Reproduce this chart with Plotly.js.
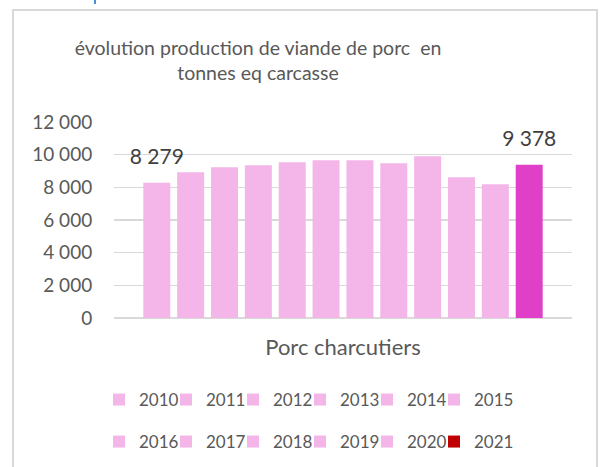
<!DOCTYPE html>
<html>
<head>
<meta charset="utf-8">
<script src="https://cdn.plot.ly/plotly-3.0.1.min.js"></script>
<style>
html,body{margin:0;padding:0;background:#fff;}
#wrap{position:relative;width:602px;height:467px;overflow:hidden;}
#chart{position:absolute;left:0;top:0;width:602px;height:467px;}
#frame{position:absolute;left:12px;top:9px;width:586px;height:470px;border:2px solid #D9D9D9;box-sizing:border-box;pointer-events:none;}
#cursor{position:absolute;left:94px;top:0;width:2px;height:4px;background:#4A90D9;}
</style>
</head>
<body>
<div id="wrap">
<div id="chart"></div>
<div id="frame"></div>
<div id="cursor"></div>
</div>
<script>
const category = ["Porc charcutiers"];
const years = ["2010","2011","2012","2013","2014","2015","2016","2017","2018","2019","2020","2021"];
const values = [8279, 8930, 9230, 9350, 9540, 9660, 9660, 9480, 9900, 8620, 8190, 9378];
const barColors = ["#F4B6E8","#F4B6E8","#F4B6E8","#F4B6E8","#F4B6E8","#F4B6E8","#F4B6E8","#F4B6E8","#F4B6E8","#F4B6E8","#F4B6E8","#E040C8"];
const legendColors = ["#F4B6E8","#F4B6E8","#F4B6E8","#F4B6E8","#F4B6E8","#F4B6E8","#F4B6E8","#F4B6E8","#F4B6E8","#F4B6E8","#F4B6E8","#C00000"];
const labelled = ["2010","2021"];

const FONT = "Lato, 'Open Sans', sans-serif";
const GREY = "#595959";

const legendId = i => i === 0 ? "legend" : "legend" + (i + 1);

const traces = years.map((yr, i) => {
  const t = {
    type: "bar",
    name: yr,
    x: category,
    y: [values[i]],
    marker: {color: barColors[i]},
    showlegend: false,
    constraintext: "none",
    cliponaxis: false,
    hoverinfo: "name+y"
  };
  if (labelled.includes(yr)) {
    t.texttemplate = "<span style='font-size:21px'>%{y:,.0f}</span><br> ";
    t.textposition = "outside";
    t.textfont = {family: FONT, size: 10.5, color: "#404040"};
  }
  return t;
});
// legend entries (swatch colours as in the original legend)
years.forEach((yr, i) => {
  traces.push({
    type: "scatter", mode: "markers", name: yr,
    x: [null], y: [null],
    marker: {symbol: "square", size: 12, color: legendColors[i]},
    legend: legendId(i), showlegend: true, hoverinfo: "skip"
  });
});

const px = X => (X - 114) / 458;
const py = Y => (318 - Y) / 196;

const layout = {
  width: 602, height: 467,
  margin: {l: 114, r: 30, t: 122, b: 149, pad: 0, autoexpand: false},
  paper_bgcolor: "rgba(0,0,0,0)",
  plot_bgcolor: "rgba(0,0,0,0)",
  separators: ", ",
  font: {family: FONT, color: GREY},
  title: {
    text: "évolution production de viande de porc&nbsp; en<br>tonnes eq carcasse",
    font: {family: FONT, size: 19.5, color: GREY},
    xref: "container", x: 258/602, xanchor: "center",
    yref: "container", y: 1 - 55/467, yanchor: "top"
  },
  barmode: "group",
  bargap: 0.113,
  bargroupgap: 0.203,
  xaxis: {
    type: "category",
    showgrid: false,
    showline: false,
    zeroline: false,
    ticks: "outside", ticklen: 10, tickcolor: "rgba(0,0,0,0)",
    tickfont: {family: FONT, size: 22, color: GREY},
    fixedrange: true
  },
  yaxis: {
    range: [0, 12000],
    dtick: 2000,
    tickformat: ",d",
    showgrid: true, gridcolor: "#D9D9D9", gridwidth: 1.3,
    zeroline: true, zerolinecolor: "#D9D9D9", zerolinewidth: 1.5,
    showline: false,
    ticks: "outside", ticklen: 17, tickcolor: "rgba(0,0,0,0)",
    tickfont: {family: FONT, size: 19, color: GREY},
    fixedrange: true
  },
  showlegend: true
};
years.forEach((yr, i) => {
  layout[legendId(i)] = {
    orientation: "h",
    font: {family: FONT, size: 17, color: GREY},
    xanchor: "left", yanchor: "middle",
    x: px(99 + (i % 6) * 67),
    y: py(i < 6 ? 400 : 442),
    bgcolor: "rgba(0,0,0,0)",
    borderwidth: 0
  };
});

Plotly.newPlot("chart", traces, layout, {displayModeBar: false, staticPlot: true});
</script>
</body>
</html>
